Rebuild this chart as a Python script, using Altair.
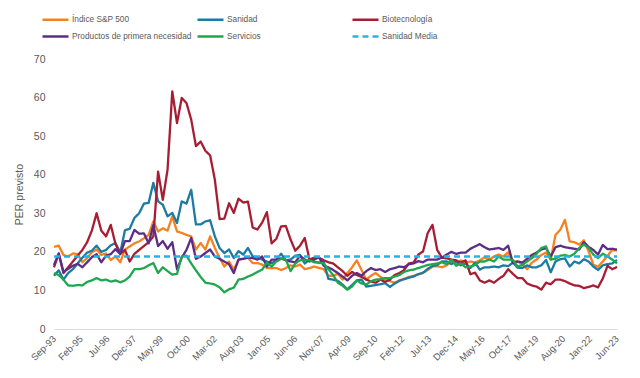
import altair as alt
import pandas as pd

SERIES = ["Índice S&P 500", "Sanidad", "Biotecnología",
          "Productos de primera necesidad", "Servicios", "Sanidad Media"]
COLORS = ["#F5821F", "#1B7BA2", "#A71E34", "#5C2D86", "#1FA74E", "#21B5E3"]
DASHES = [[1, 0], [1, 0], [1, 0], [1, 0], [1, 0], [6, 4]]

TICK_LABELS = ["Sep-93", "Feb-95", "Jul-96", "Dec-97", "May-99", "Oct-00",
               "Mar-02", "Aug-03", "Jan-05", "Jun-06", "Nov-07", "Apr-09",
               "Sep-10", "Feb-12", "Jul-13", "Dec-14", "May-16", "Oct-17",
               "Mar-19", "Aug-20", "Jan-22", "Jun-23"]

# quarterly values, Sep-93 .. Jun-23
sp500 = [21.3, 21.6, 19.2, 18.8, 19.6, 19.4, 17.3, 18.4, 19.9, 20.6,
         19.2, 19.6, 17.9, 18.8, 17.3, 20.6, 21.4, 22.2, 22.7, 23.5,
         24.4, 27.9, 25.3, 26.1, 25.5, 29.2, 25.3, 24.9, 24.4, 24.0,
         20.6, 22.3, 20.6, 24.0, 21.0, 18.4, 16.2, 17.5, 15.4, 18.0,
         18.2, 18.5, 17.1, 17.1, 16.7, 15.8, 15.8, 15.8, 15.3, 15.8,
         16.5, 16.2, 16.7, 15.5, 15.8, 16.2, 15.8, 15.5, 13.8, 13.8,
         14.3, 12.8, 14.5, 16.0, 17.8, 15.3, 12.8, 13.8, 14.5, 13.5,
         12.8, 12.4, 12.0, 12.6, 13.0, 13.5, 13.8, 14.2, 14.5, 15.3,
         16.2, 16.3, 16.0, 16.5, 17.5, 16.8, 17.8, 17.2, 17.5, 17.2,
         17.8, 18.6, 18.0, 18.8, 19.3, 18.8, 19.9, 17.5, 17.5, 16.8,
         15.5, 17.2, 18.0, 19.2, 19.8, 18.0, 24.4, 25.7, 28.3, 22.7,
         22.5, 21.9, 23.0, 20.1, 16.7, 16.1, 17.5, 19.0, 20.5, 20.3]

sanidad = [13.8, 15.2, 12.8, 14.5, 15.5, 17.0, 18.5, 19.8, 20.3, 21.6,
           20.0, 20.5, 21.7, 22.3, 19.8, 25.6, 26.0, 28.8, 30.0, 32.5,
           32.7, 37.9, 33.1, 32.2, 29.2, 30.1, 27.5, 33.1, 32.5, 36.1,
           27.1, 27.1, 27.9, 28.2, 24.0, 21.0, 19.7, 20.6, 18.4, 20.2,
           19.3, 21.0, 18.8, 18.6, 18.0, 17.5, 17.0, 18.0, 19.5, 17.8,
           18.0, 19.0, 19.2, 17.0, 18.0, 17.5, 17.2, 17.5, 13.0, 12.8,
           12.5, 11.5, 10.3, 11.4, 12.6, 12.8, 11.0, 11.2, 11.4, 11.6,
           11.9, 10.9, 11.8, 12.5, 12.9, 13.3, 13.6, 14.2, 14.6, 15.6,
           16.3, 16.6, 17.5, 17.5, 16.8, 17.5, 16.5, 17.0, 15.8, 17.2,
           15.4, 16.0, 16.0, 16.2, 16.0, 16.5, 16.3, 17.2, 15.9, 15.8,
           16.5, 16.0, 16.0, 16.5, 17.9, 14.7, 17.5, 18.1, 18.3, 16.2,
           17.5, 17.0, 18.1, 17.5, 16.2, 15.3, 16.5, 16.8, 17.0, 17.9]

biotecnologia = [16.0, 19.5, 14.5, 16.0, 17.5, 19.0, 20.5, 22.5, 25.5, 30.0,
                 25.5, 24.0, 27.0, 22.0, 19.5, 20.5, 17.5, 19.5, 20.5, 21.5,
                 22.5, 24.0, 40.8, 33.5, 41.3, 61.6, 53.4, 59.9, 58.6, 54.3,
                 47.4, 48.6, 46.2, 45.0, 38.7, 28.5, 28.6, 32.6, 30.1, 33.8,
                 32.8, 33.0, 26.3, 25.8, 27.6, 30.3, 22.2, 23.4, 26.6, 26.7,
                 23.2, 20.3, 21.6, 23.6, 18.0, 18.5, 18.5, 17.8, 17.3, 17.0,
                 16.0, 15.0, 13.8, 14.8, 14.0, 13.5, 12.8, 12.3, 12.0, 12.8,
                 12.2, 12.8, 14.0, 14.5, 15.3, 17.0, 17.2, 19.3, 20.1, 24.9,
                 27.0, 20.5, 18.5, 18.3, 18.0, 17.8, 17.2, 17.8, 14.2, 14.6,
                 12.6, 12.0, 12.6, 12.0, 13.0, 13.8, 15.5, 14.3, 13.2, 13.2,
                 11.8, 11.3, 11.0, 10.2, 12.0, 11.6, 12.8, 12.8, 12.4, 11.8,
                 11.3, 11.2, 10.6, 10.9, 11.3, 10.8, 13.1, 16.4, 15.5, 16.1]

primera_necesidad = [16.6, 19.6, 14.8, 15.6, 16.4, 16.9, 16.0, 17.3, 18.6, 19.4,
                     17.3, 19.0, 19.4, 20.7, 19.4, 22.8, 22.8, 25.7, 24.7, 24.8,
                     22.2, 26.9, 21.5, 22.8, 20.8, 22.5, 15.5, 18.5, 20.5, 23.6,
                     18.2, 18.8, 19.7, 20.6, 18.8, 18.2, 17.5, 16.8, 14.5, 18.0,
                     18.2, 18.5, 18.4, 18.0, 18.8, 16.2, 18.0, 18.0, 18.3, 17.8,
                     17.5, 17.3, 19.0, 18.0, 17.5, 18.0, 18.6, 16.4, 16.0, 15.3,
                     14.5, 13.6, 12.6, 13.8, 14.5, 13.8, 15.0, 15.8, 15.3, 15.5,
                     14.8, 15.5, 15.8, 16.2, 16.0, 16.8, 17.0, 17.6, 17.3, 18.0,
                     18.0, 18.0, 18.5, 19.3, 20.0, 19.5, 19.8, 19.8, 20.8, 21.4,
                     22.0, 21.2, 20.6, 20.8, 21.0, 20.5, 21.6, 17.1, 17.5, 17.2,
                     18.2, 19.2, 19.8, 20.6, 21.0, 18.8, 21.2, 21.6, 21.2, 21.0,
                     20.8, 20.6, 22.5, 21.3, 20.5, 19.3, 21.8, 20.7, 20.8, 20.6]

servicios = [14.5, 14.0, 12.8, 11.3, 11.2, 11.4, 11.3, 12.2, 12.6, 13.2,
             12.6, 12.8, 12.3, 12.6, 12.1, 12.6, 13.6, 15.5, 15.5, 15.8,
             16.5, 17.1, 14.5, 16.0, 15.0, 14.1, 14.3, 18.8, 19.0, 17.0,
             15.2, 13.5, 12.0, 11.8, 11.5, 10.8, 9.5, 10.3, 10.7, 12.8,
             13.0, 13.6, 14.1, 14.8, 15.4, 17.2, 16.2, 17.5, 18.2, 18.0,
             15.0, 17.0, 17.8, 18.0, 17.8, 17.3, 17.2, 17.0, 15.5, 14.0,
             12.0, 11.2, 10.2, 11.0, 12.6, 11.8, 11.5, 12.4, 12.8, 12.9,
             13.2, 13.2, 13.6, 14.0, 14.8, 15.2, 15.4, 15.8, 16.2, 16.6,
             16.8, 17.0, 17.3, 16.8, 18.0, 16.4, 17.0, 16.0, 16.2, 16.6,
             17.5, 17.5, 18.0, 17.5, 18.8, 18.0, 18.0, 17.9, 16.2, 16.6,
             17.5, 18.4, 19.5, 21.0, 21.4, 18.0, 18.2, 19.0, 19.2, 18.8,
             19.5, 21.0, 21.9, 21.0, 19.3, 18.4, 19.5, 18.8, 18.0, 17.0]

sanidad_media = 18.8

values = [sp500, sanidad, biotecnologia, primera_necesidad, servicios,
          [sanidad_media] * len(sp500)]

rows = []
for name, vals in zip(SERIES, values):
    for q, v in enumerate(vals):
        rows.append({"serie": name, "mes": 3 * q, "per": v})
df = pd.DataFrame(rows)

FONT = "Liberation Sans"
label_expr = "[" + ",".join("'%s'" % t for t in TICK_LABELS) + "][round(datum.value / 17)]"

chart = alt.Chart(df).mark_line(strokeWidth=2.3, strokeJoin="round").encode(
    x=alt.X("mes:Q",
            scale=alt.Scale(domain=[0, 357], nice=False, zero=False),
            axis=alt.Axis(values=[17 * i for i in range(len(TICK_LABELS))],
                          labelExpr=label_expr, labelAngle=-45,
                          labelAlign="right", labelBaseline="middle",
                          labelPadding=8, ticks=False, grid=False,
                          labelOverlap=False, labelBound=False,
                          domainColor="#D9D9D9", domainWidth=1,
                          labelColor="#595959", labelFontSize=9.5,
                          labelFont=FONT, title=None)),
    y=alt.Y("per:Q",
            scale=alt.Scale(domain=[0, 70], nice=False),
            axis=alt.Axis(values=list(range(0, 71, 10)), grid=False,
                          domain=False, ticks=False, labelPadding=9,
                          labelColor="#595959", labelFontSize=10.5,
                          labelFont=FONT, title="PER previsto",
                          titleColor="#595959", titleFontSize=10.5,
                          titleFontWeight="normal", titleFont=FONT,
                          titlePadding=9)),
    color=alt.Color("serie:N",
                    scale=alt.Scale(domain=SERIES, range=COLORS),
                    legend=alt.Legend(title=None, orient="none",
                                      legendX=-11, legendY=-51,
                                      direction="horizontal", columns=3,
                                      gridAlign="all", columnPadding=0,
                                      rowPadding=0,
                                      symbolType="M-1.2,0H1.4",
                                      symbolSize=400, symbolStrokeWidth=2.5,
                                      labelFontSize=8.3, labelColor="#595959",
                                      labelFont=FONT, labelOffset=6,
                                      labelLimit=300)),
    strokeDash=alt.StrokeDash("serie:N",
                              scale=alt.Scale(domain=SERIES, range=DASHES),
                              legend=None),
    order=alt.Order("mes:Q"),
).properties(
    width=563, height=270,
    padding={"left": 6, "top": 0, "right": 5, "bottom": 5},
).configure_view(stroke=None)

chart.save("out.html", embed_options={"renderer": "svg", "actions": False})
